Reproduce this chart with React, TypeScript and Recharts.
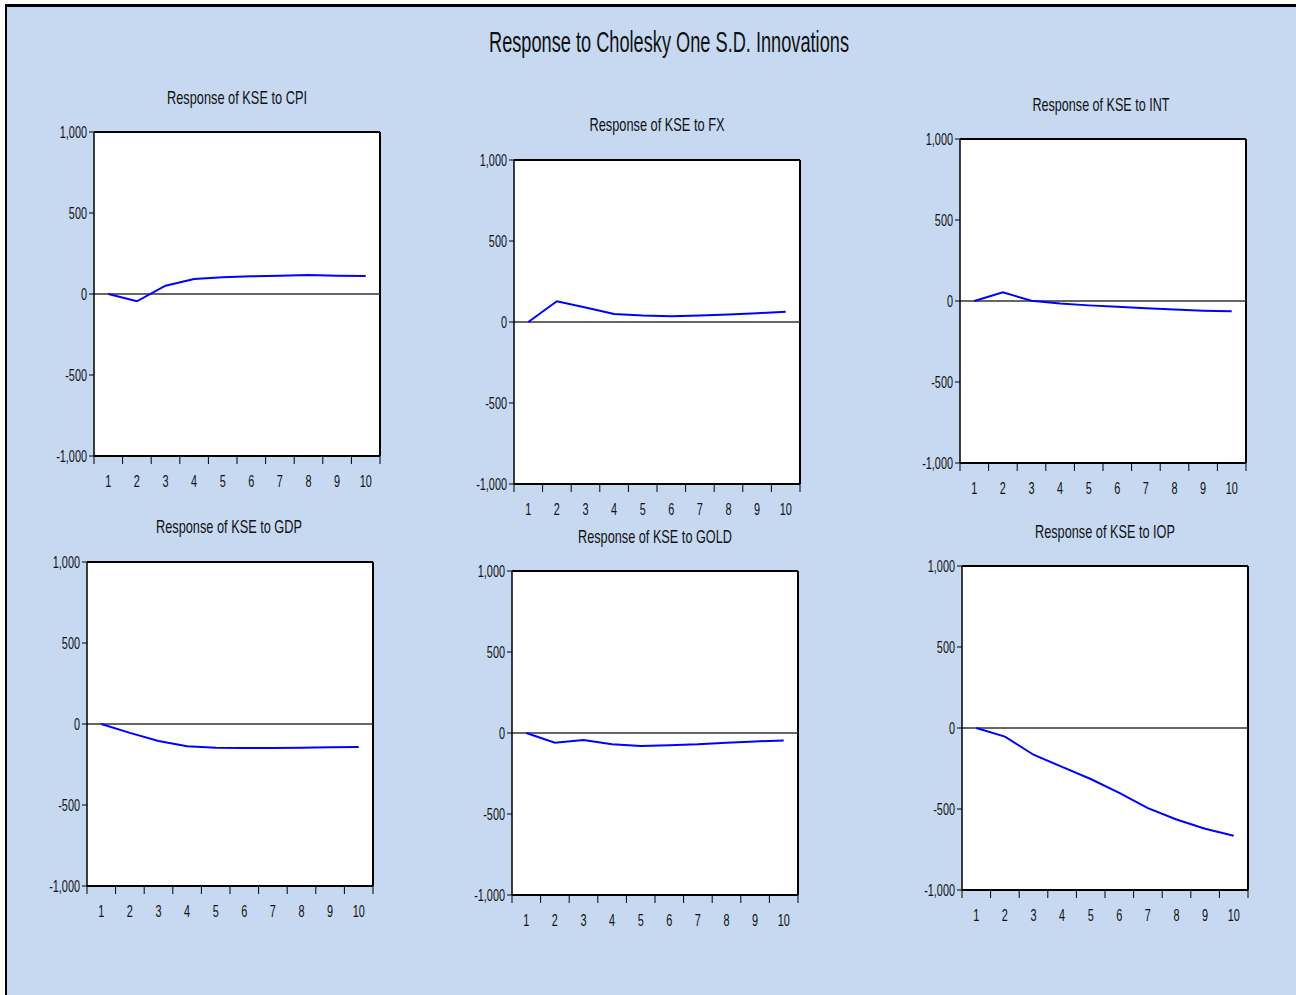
import React from "react";
import { LineChart, Line, XAxis, YAxis, CartesianGrid, ReferenceLine } from "recharts";

// impulse responses of KSE, periods 1..10
const periods = [1, 2, 3, 4, 5, 6, 7, 8, 9, 10];
const yTicks = [-1000, -500, 0, 500, 1000];
const cpi = [0, -45, 51, 93, 103, 109, 113, 117, 113, 111];
const fx = [0, 128, 90, 50, 40, 36, 40, 46, 54, 64];
const intRate = [0, 53, 2, -16, -27, -35, -45, -53, -60, -64];
const gdp = [0, -55, -105, -138, -146, -148, -148, -146, -144, -142];
const gold = [0, -60, -44, -70, -80, -76, -70, -60, -52, -46];
const iop = [0, -53, -165, -240, -315, -400, -495, -565, -622, -665];

const mainTitle = "Response to Cholesky One S.D. Innovations";

const panels = [
  { title: "Response of KSE to CPI", values: cpi },
  { title: "Response of KSE to FX", values: fx },
  { title: "Response of KSE to INT", values: intRate },
  { title: "Response of KSE to GDP", values: gdp },
  { title: "Response of KSE to GOLD", values: gold },
  { title: "Response of KSE to IOP", values: iop },
];

// plot-area placement of each panel on the page
const layout = [
  { left: 94, top: 132, titleX: 237, titleY: 104, titleW: 140 },
  { left: 514, top: 160, titleX: 657, titleY: 131, titleW: 135 },
  { left: 960, top: 139, titleX: 1101, titleY: 111, titleW: 137 },
  { left: 87, top: 562, titleX: 229, titleY: 533, titleW: 146 },
  { left: 512, top: 571, titleX: 655, titleY: 543, titleW: 154 },
  { left: 962, top: 566, titleX: 1105, titleY: 538, titleW: 140 },
];

const PLOT_W = 286;
const PLOT_H = 324;
const Y_AXIS_W = 70;
const X_AXIS_H = 40;
const M_TOP = 15;
const M_RIGHT = 5;
const BAND = PLOT_W / periods.length;
const X_MIN = periods[0] - 0.5;
const X_MAX = periods[periods.length - 1] + 0.5;
const bandEdges = [...periods.map((p) => p - 0.5), X_MAX];

const FONT = '"Liberation Sans", Arial, sans-serif';
const fmt = (v: number) => v.toLocaleString("en-US");

const XTick = (props: any) => {
  const { x, y, payload } = props;
  const label = payload.value + 0.5;
  if (!periods.includes(label)) return <g />;
  return (
    <text transform={`translate(${x + BAND / 2},${y + 21}) scale(0.64,1)`} textAnchor="middle"
      fontSize={17} fontFamily={FONT} fill="#111">
      {label}
    </text>
  );
};

const YTick = (props: any) => {
  const { x, y, payload } = props;
  return (
    <text transform={`translate(${x},${y + 6}) scale(0.64,1)`} textAnchor="end"
      fontSize={17} fontFamily={FONT} fill="#111">
      {fmt(payload.value)}
    </text>
  );
};

function Panel({ values, left, top }: { values: number[]; left: number; top: number }) {
  const data = periods.map((p, i) => ({ period: p, v: values[i] }));
  return (
    <div style={{ position: "absolute", left: left - Y_AXIS_W, top: top - M_TOP }}>
      <LineChart width={Y_AXIS_W + PLOT_W + M_RIGHT} height={M_TOP + PLOT_H + X_AXIS_H} data={data}
        margin={{ top: M_TOP, right: M_RIGHT, left: 0, bottom: 0 }}>
        <CartesianGrid horizontal={false} vertical={false} fill="#fff" />
        <XAxis dataKey="period" type="number" domain={[X_MIN, X_MAX]} ticks={bandEdges} interval={0}
          allowDataOverflow tick={<XTick />} tickSize={8} height={X_AXIS_H}
          tickLine={{ stroke: "#000" }} axisLine={{ stroke: "#000", strokeWidth: 2 }} />
        <YAxis type="number" domain={[-1000, 1000]} ticks={yTicks} interval={0} width={Y_AXIS_W}
          tick={<YTick />} tickSize={5} tickLine={{ stroke: "#000" }}
          axisLine={{ stroke: "#000", strokeWidth: 1.5 }} />
        <ReferenceLine y={1000} stroke="#000" strokeWidth={2} />
        <ReferenceLine x={X_MAX} stroke="#000" strokeWidth={2} />
        <ReferenceLine y={0} stroke="#333" strokeWidth={1.3} />
        <Line type="linear" dataKey="v" stroke="#0000FF" strokeWidth={2} dot={false}
          isAnimationActive={false} />
      </LineChart>
    </div>
  );
}

export default function App() {
  return (
    <div style={{ position: "absolute", left: 0, top: 0, width: 1296, height: 995, background: "#fff", overflow: "hidden" }}>
      <div style={{ position: "absolute", left: 5, top: 4, right: 0, bottom: 0, borderTop: "3px solid #000",
        borderLeft: "2px solid #000", background: "#C6D9F1" }} />
      {panels.map((p, i) => (
        <Panel key={p.title} values={p.values} left={layout[i].left} top={layout[i].top} />
      ))}
      <svg width={1296} height={995} style={{ position: "absolute", left: 0, top: 0, pointerEvents: "none" }}>
        <text x={669} y={52} textAnchor="middle" fontSize={30} fontFamily={FONT} fill="#111"
          textLength={360} lengthAdjust="spacingAndGlyphs">{mainTitle}</text>
        {panels.map((p, i) => (
          <text key={p.title} x={layout[i].titleX} y={layout[i].titleY} textAnchor="middle" fontSize={19}
            fontFamily={FONT} fill="#111" textLength={layout[i].titleW} lengthAdjust="spacingAndGlyphs">
            {p.title}
          </text>
        ))}
      </svg>
    </div>
  );
}
